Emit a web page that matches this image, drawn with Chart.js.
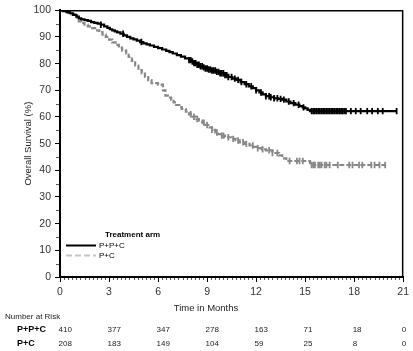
<!DOCTYPE html>
<html>
<head>
<meta charset="utf-8">
<script src="https://cdn.jsdelivr.net/npm/chart.js@4.4.1/dist/chart.umd.min.js"></script>
<style>
  html, body { margin: 0; padding: 0; background: #fff; }
</style>
</head>
<body>
<canvas id="kmChart" width="413" height="351"></canvas>
<script>
// Kaplan-Meier steps (months, % alive after each drop)
const ppcTimes = [0, 0.2, 0.4, 0.6, 0.8, 1.0, 1.15, 1.3, 1.5, 1.7, 1.9, 2.1, 2.3, 2.5, 2.7, 2.9, 3.05, 3.2, 3.35, 3.5, 3.7, 3.9, 4.1, 4.3, 4.5, 4.7, 4.9, 5.1, 5.3, 5.5, 5.75, 6.0, 6.25, 6.5, 6.7, 6.9, 7.15, 7.4, 7.65, 7.9, 8.05, 8.2, 8.4, 8.55, 8.75, 8.9, 9.1, 9.3, 9.55, 9.8, 10.05, 10.3, 10.55, 10.8, 11.05, 11.3, 11.55, 11.8, 12.0, 12.2, 12.4, 12.6, 12.85, 13.1, 13.35, 13.6, 13.85, 14.1, 14.4, 14.65, 14.85, 15.0, 15.15, 15.3, 20.6];
const ppcSurv  = [100, 99.7, 99.3, 98.9, 98.3, 97.6, 97.0, 96.6, 96.3, 96.0, 95.6, 95.3, 95.0, 94.6, 94.0, 93.4, 92.9, 92.5, 92.1, 91.7, 91.2, 90.6, 90.0, 89.5, 89.1, 88.6, 88.1, 87.6, 87.2, 86.8, 86.3, 85.8, 85.3, 84.8, 84.3, 83.8, 83.2, 82.6, 82.0, 81.3, 80.8, 80.2, 79.6, 79.0, 78.6, 78.2, 77.8, 77.4, 76.9, 76.4, 75.7, 75.0, 74.4, 73.9, 73.1, 72.3, 71.5, 70.8, 70.0, 69.2, 68.5, 67.8, 67.4, 67.0, 66.8, 66.5, 65.8, 65.2, 64.6, 64.1, 63.6, 63.2, 62.7, 62.2, 62.2];

const pcTimes = [0, 0.25, 0.5, 0.7, 0.9, 1.05, 1.15, 1.3, 1.5, 1.7, 1.9, 2.15, 2.4, 2.6, 2.8, 3.0, 3.2, 3.4, 3.6, 3.8, 4.05, 4.2, 4.4, 4.6, 4.8, 5.0, 5.2, 5.4, 5.6, 6.0, 6.3, 6.45, 6.6, 6.8, 6.95, 7.1, 7.3, 7.45, 7.7, 7.9, 8.1, 8.35, 8.5, 8.7, 8.9, 9.15, 9.3, 9.5, 9.65, 9.8, 10.1, 10.5, 10.75, 11.0, 11.3, 11.6, 11.85, 12.1, 12.35, 12.6, 13.0, 13.4, 13.6, 13.85, 15.3, 19.9];
const pcSurv  = [100, 99.5, 99.0, 98.5, 98.0, 97.2, 95.8, 95.2, 94.6, 94.0, 93.3, 92.5, 91.8, 90.9, 90.0, 89.0, 88.0, 87.0, 86.0, 84.9, 83.8, 82.5, 81.0, 79.3, 77.6, 76.3, 75.0, 73.8, 72.7, 72.1, 70.0, 68.0, 67.3, 66.5, 65.5, 64.5, 63.7, 63.0, 62.0, 61.0, 60.1, 59.2, 58.6, 57.9, 57.0, 56.1, 55.2, 54.2, 53.6, 53.0, 52.4, 51.8, 51.2, 50.5, 49.9, 49.3, 48.8, 48.3, 47.9, 47.5, 46.5, 45.6, 44.5, 43.5, 42.0, 42.0];

// censored observations (months)
const ppcCensor = [2.5, 3.86, 4.98, 7.9, 8.0, 8.1, 8.2, 8.3, 8.4, 8.5, 8.6, 8.7, 8.8, 8.9, 9.0, 9.1, 9.2, 9.3, 9.4, 9.5, 9.6, 9.7, 9.8, 9.9, 10.0, 10.1, 10.2, 10.3, 10.5, 10.7, 10.9, 11.1, 11.4, 11.7, 12.0, 12.3, 12.6, 12.8, 12.9, 13.1, 13.3, 13.5, 13.7, 14.0, 14.3, 14.6, 14.9,
  15.4, 15.5, 15.6, 15.7, 15.8, 15.9, 16.0, 16.1, 16.2, 16.3, 16.4, 16.5, 16.6, 16.7, 16.8, 16.9, 17.0, 17.1, 17.2, 17.3, 17.4, 17.5, 17.8, 18.1, 18.4, 18.8, 19.1, 19.45, 19.75, 20.6];
const pcCensor = [8.0, 8.2, 8.4, 8.8, 9.0, 9.3, 9.6, 9.9, 10.0, 10.3, 10.6, 10.9, 11.2, 11.4, 11.8, 12.1, 12.4, 12.8, 13.0, 13.3, 14.05, 14.5, 14.66, 14.86,
  15.4, 15.5, 15.6, 15.8, 15.9, 16.0, 16.2, 16.3, 16.5, 17.0, 17.7, 17.9, 18.3, 18.5, 19.05, 19.25, 19.55, 19.9];

// number at risk table
const riskTimes = [0, 3, 6, 9, 12, 15, 18, 21];
const riskPPC = [410, 377, 347, 278, 163, 71, 18, 0];
const riskPC  = [208, 183, 149, 104, 59, 25, 8, 0];

const FONT = "'Liberation Sans', Arial, sans-serif";

function toPoints(xs, ys) {
    return xs.map((x, i) => ({ x: x, y: ys[i] }));
}
function survAt(times, surv, t) {
    let s = surv[0];
    for (let i = 0; i < times.length; i++) {
        if (times[i] <= t) s = surv[i];
    }
    return s;
}
function censorPoints(cens, times, surv) {
    return cens.map(t => ({ x: t, y: survAt(times, surv, t) }));
}

// extra drawing: box, minor ticks, titles, legend, risk table
const decorPlugin = {
    id: 'decor',
    afterDraw(chart) {
        const ctx = chart.ctx;
        const a = chart.chartArea;
        const xs = chart.scales.x;
        const ys = chart.scales.y;
        ctx.save();

        // top / right frame
        ctx.strokeStyle = '#000';
        ctx.lineWidth = 1.5;
        ctx.beginPath();
        ctx.moveTo(a.left, a.top + 0.5);
        ctx.lineTo(a.right - 0.5, a.top + 0.5);
        ctx.lineTo(a.right - 0.5, a.bottom);
        ctx.stroke();

        // minor ticks
        ctx.lineWidth = 1;
        ctx.strokeStyle = '#555';
        ctx.beginPath();
        for (let m = 0.25; m < 21; m += 0.25) {
            if (Math.abs(m / 3 - Math.round(m / 3)) < 1e-6) continue;
            const px = Math.round(xs.getPixelForValue(m)) + 0.5;
            ctx.moveTo(px, a.bottom + 1);
            ctx.lineTo(px, a.bottom + 3);
        }
        for (let v = 5; v < 100; v += 10) {
            const py = Math.round(ys.getPixelForValue(v)) + 0.5;
            ctx.moveTo(a.left - 1, py);
            ctx.lineTo(a.left - 4, py);
        }
        ctx.stroke();

        // axis titles
        ctx.fillStyle = '#222';
        ctx.font = '9.5px ' + FONT;
        ctx.textAlign = 'center';
        ctx.textBaseline = 'middle';
        ctx.fillText('Time in Months', 206, 308);
        ctx.save();
        ctx.translate(28, (a.top + a.bottom) / 2);
        ctx.rotate(-Math.PI / 2);
        ctx.fillText('Overall Survival (%)', 0, 0);
        ctx.restore();

        // legend
        ctx.textAlign = 'left';
        ctx.font = 'bold 8px ' + FONT;
        ctx.fillStyle = '#000';
        ctx.fillText('Treatment arm', 105, 235);
        ctx.font = '8px ' + FONT;
        ctx.lineWidth = 2;
        ctx.strokeStyle = '#000';
        ctx.setLineDash([]);
        ctx.beginPath();
        ctx.moveTo(66, 245.5);
        ctx.lineTo(96, 245.5);
        ctx.stroke();
        ctx.fillText('P+P+C', 99, 246);
        ctx.strokeStyle = '#c4c4c4';
        ctx.setLineDash([6, 3]);
        ctx.beginPath();
        ctx.moveTo(66, 255.5);
        ctx.lineTo(96, 255.5);
        ctx.stroke();
        ctx.setLineDash([]);
        ctx.fillText('P+C', 99, 256);

        // number at risk
        ctx.fillStyle = '#222';
        ctx.font = '8px ' + FONT;
        ctx.fillText('Number at Risk', 5, 317);
        ctx.font = 'bold 9px ' + FONT;
        ctx.fillStyle = '#000';
        ctx.fillText('P+P+C', 17, 330);
        ctx.fillText('P+C', 17, 344);
        ctx.font = '8px ' + FONT;
        ctx.fillStyle = '#222';
        riskTimes.forEach((t, i) => {
            const px = xs.getPixelForValue(t) - 1.5;
            ctx.fillText(String(riskPPC[i]), px, 330);
            ctx.fillText(String(riskPC[i]), px, 344);
        });
        ctx.restore();
    }
};

new Chart(document.getElementById('kmChart').getContext('2d'), {
    type: 'line',
    data: {
        datasets: [
            {
                label: 'P+P+C',
                data: toPoints(ppcTimes, ppcSurv),
                borderColor: '#000',
                borderWidth: 2.2,
                stepped: true,
                pointRadius: 0,
                fill: false
            },
            {
                label: 'P+C',
                data: toPoints(pcTimes, pcSurv),
                borderColor: '#888888',
                borderWidth: 2.2,
                borderDash: [5, 2],
                stepped: true,
                pointRadius: 0,
                fill: false
            },
            {
                label: 'P+P+C censored',
                data: censorPoints(ppcCensor, ppcTimes, ppcSurv),
                showLine: false,
                pointStyle: 'line',
                rotation: 90,
                pointRadius: 3.2,
                borderColor: '#000',
                pointBorderWidth: 1.8
            },
            {
                label: 'P+C censored',
                data: censorPoints(pcCensor, pcTimes, pcSurv),
                showLine: false,
                pointStyle: 'line',
                rotation: 90,
                pointRadius: 3.2,
                borderColor: '#888888',
                pointBorderWidth: 1.8
            }
        ]
    },
    options: {
        responsive: false,
        animation: false,
        devicePixelRatio: 1,
        layout: { padding: { left: 0, right: 9, top: 6, bottom: 0 } },
        plugins: {
            legend: { display: false },
            tooltip: { enabled: false }
        },
        scales: {
            x: {
                type: 'linear',
                min: 0,
                max: 21,
                afterFit: s => { s.height = 74; },
                ticks: { stepSize: 3, color: '#333', font: { family: FONT, size: 10.5 }, padding: 4, maxRotation: 0 },
                grid: { drawOnChartArea: false, drawTicks: true, tickLength: 5, color: '#000' },
                border: { color: '#000', width: 2 }
            },
            y: {
                min: 0,
                max: 100,
                afterFit: s => { s.width = 60; },
                ticks: { stepSize: 10, color: '#333', font: { family: FONT, size: 10.5 }, padding: 4 },
                grid: { drawOnChartArea: false, drawTicks: true, tickLength: 5, color: '#000' },
                border: { color: '#000', width: 2 }
            }
        }
    },
    plugins: [decorPlugin]
});
</script>
</body>
</html>
